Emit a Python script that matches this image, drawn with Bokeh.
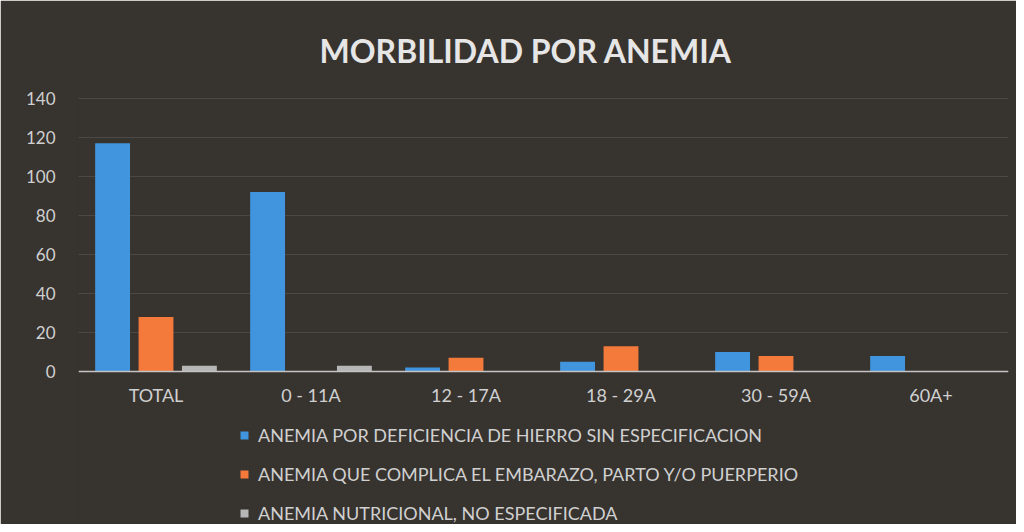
from bokeh.plotting import figure
from bokeh.models import Legend, LegendItem, Title, FixedTicker, ColumnDataSource
from bokeh.transform import dodge
from bokeh.embed import file_html
from bokeh.resources import INLINE

categories = ["TOTAL", "0 - 11A", "12 - 17A", "18 - 29A", "30 - 59A", "60A+"]
series_names = [
    "ANEMIA POR DEFICIENCIA DE HIERRO SIN ESPECIFICACION",
    "ANEMIA QUE COMPLICA EL EMBARAZO, PARTO Y/O PUERPERIO",
    "ANEMIA NUTRICIONAL, NO ESPECIFICADA",
]
hierro = [117, 92, 2, 5, 10, 8]
embarazo = [28, 0, 7, 13, 8, 0]
nutricional = [3, 3, 0, 0, 0, 0]
y_ticks = [0, 20, 40, 60, 80, 100, 120, 140]
y_max = 140

colors = ["#4195de", "#f47a3c", "#b6b6b6"]
BG = "#37332f"
TXT = "#d0d0d0"
FONT = "Lato"

# layout: value axis occupies 273 px for 0..140; frame extends a little
# above 140 and well below 0 to leave room for labels and the legend
AXIS_PX = 273
PAD_TOP = 2
FRAME_H = 428
px_per_unit = AXIS_PX / y_max
y_top = y_max + PAD_TOP / px_per_unit
y_min = y_top - FRAME_H / px_per_unit

src = ColumnDataSource(dict(cat=categories, a=hierro, b=embarazo, c=nutricional))

p = figure(x_range=categories, y_range=(y_min, y_top), output_backend="svg",
           toolbar_location=None, frame_width=930, frame_height=FRAME_H,
           min_border_left=78, min_border_right=8, min_border_top=96,
           min_border_bottom=0)
p.background_fill_color = BG
p.border_fill_color = BG
p.outline_line_color = BG
p.outline_line_width = 2

offs = [-0.28, 0.0, 0.28]
renderers = []
for key, off, col in zip(["a", "b", "c"], offs, colors):
    r = p.vbar(x=dodge("cat", off, range=p.x_range), top=key, width=0.225,
               source=src, fill_color=col, line_color=None)
    renderers.append(r)

p.xgrid.grid_line_color = None
p.ygrid.grid_line_color = "#4b4845"
p.ygrid.grid_line_width = 1
p.yaxis.ticker = FixedTicker(ticks=y_ticks)
p.yaxis.axis_line_color = None
p.yaxis.major_tick_line_color = None
p.yaxis.minor_tick_line_color = None
p.yaxis.major_label_text_color = TXT
p.yaxis.major_label_text_font = FONT
p.yaxis.major_label_text_font_size = "17px"
p.yaxis.major_label_standoff = 17

p.xaxis.fixed_location = 0
p.xaxis.axis_line_color = "#c4c4c4"
p.xaxis.axis_line_width = 1.5
p.xaxis.major_tick_line_color = None
p.xaxis.minor_tick_line_color = None
p.xaxis.major_label_text_color = TXT
p.xaxis.major_label_text_font = FONT
p.xaxis.major_label_text_font_size = "18px"
p.xaxis.major_label_standoff = 6

t = Title(text="MORBILIDAD POR ANEMIA", align="left", offset=241,
          text_font=FONT, text_font_size="32px", text_font_style="bold",
          text_color="#e6e6e6", standoff=53)
p.add_layout(t, "above")

items = [LegendItem(label=n, renderers=[r]) for n, r in zip(series_names, renderers)]
legend = Legend(items=items, orientation="vertical", location=(161, 0),
                background_fill_alpha=0, border_line_alpha=0,
                label_text_color=TXT, label_text_font=FONT,
                label_text_font_size="18px", glyph_width=10, glyph_height=10,
                label_height=20, spacing=17, label_standoff=9,
                padding=0, margin=0)
p.add_layout(legend, "center")

open("out.html", "w").write(file_html(p, INLINE))
